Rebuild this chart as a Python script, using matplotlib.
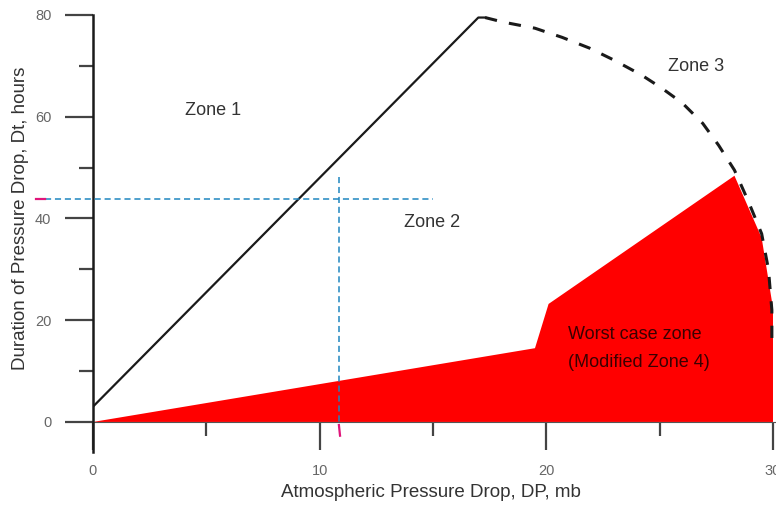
import matplotlib
matplotlib.use('Agg')
import matplotlib.pyplot as plt

plt.rcParams['font.family'] = ['Liberation Sans', 'DejaVu Sans']

# zone 1 / zone 2 boundary (solid line)
diag_x = [0, 17, 17.3]
diag_y = [3, 79.5, 79.5]

# zone 3 boundary (dashed arc)
arc_x = [17.3, 18.1, 19.5, 20.7, 21.9, 23.0, 24.2, 25.1, 26.0, 26.9, 27.6, 28.3,
         28.9, 29.5, 29.8, 29.95, 29.95]
arc_y = [79.5, 78.6, 77.4, 75.6, 73.5, 71.1, 68.2, 65.6, 62.7, 58.7, 54.4, 49.5,
         43.5, 37.0, 30.0, 22.0, 14.7]

# worst case zone (modified zone 4)
worst_x = [0, 19.5, 20.1, 28.3, 29.5, 30, 30, 0]
worst_y = [0, 14.5, 23.2, 48.4, 36.2, 22.4, 0, 0]

# reading lines
read_dp = 10.85
read_dt = 43.8

fig = plt.figure(figsize=(7.76, 5.05), dpi=100)
ax = fig.add_axes([0.1198, 0.104, 0.8807, 0.8663])

ax.fill(worst_x, worst_y, color='#ff0000', lw=0, zorder=1)
ax.plot(diag_x, diag_y, color='#1a1a1a', lw=1.6, zorder=3)
ax.plot(arc_x, arc_y, color='#1a1a1a', lw=2.2, ls=(0, (4, 4)), zorder=3)

ax.plot([-2.1, 15.0], [read_dt, read_dt], color='#1f86c0', lw=1.1,
        ls=(0, (4, 2.5)), clip_on=False, zorder=4)
ax.plot([-2.5, -2.1], [read_dt, read_dt], color='#e0157a', lw=1.6,
        clip_on=False, zorder=4)
ax.plot([read_dp, read_dp], [48.2, -0.6], color='#1f86c0', lw=1.1,
        ls=(0, (4, 2.5)), clip_on=False, zorder=4)
ax.plot([read_dp, read_dp + 0.05], [-0.6, -2.7], color='#e0157a', lw=1.6,
        clip_on=False, zorder=4)

txt = dict(fontsize=13, color='#333333', va='center')
ax.text(5.3, 61.3, 'Zone 1', ha='center', **txt)
ax.text(14.96, 39.3, 'Zone 2', ha='center', **txt)
ax.text(26.6, 69.8, 'Zone 3', ha='center', **txt)
ax.text(20.96, 17.1, 'Worst case zone', ha='left', fontsize=13,
        color='#3a0000', va='center')
ax.text(20.96, 11.6, '(Modified Zone 4)', ha='left', fontsize=13,
        color='#3a0000', va='center')

ax.set_xlim(0, 30.15)
ax.set_ylim(-6, 80)

for s in ['top', 'right']:
    ax.spines[s].set_visible(False)
ax.spines['left'].set_color('#1a1a1a')
ax.spines['left'].set_linewidth(1.8)
ax.spines['bottom'].set_position(('data', 0))
ax.spines['bottom'].set_color('#555555')
ax.spines['bottom'].set_linewidth(0.8)
ax.spines['bottom'].set_zorder(2)

ax.set_xticks([0, 10, 20, 30])
ax.set_xticks([5, 15, 25], minor=True)
ax.set_yticks([0, 20, 40, 60, 80])
ax.set_yticks([10, 30, 50, 70], minor=True)
ax.tick_params(which='major', length=20, width=1.6, color='#444444',
               labelsize=10.5, labelcolor='#666666', pad=10)
ax.tick_params(which='minor', length=10, width=1.6, color='#444444')

ax.set_xlabel('Atmospheric Pressure Drop, DP, mb', fontsize=13.5, color='#333333')
ax.set_ylabel('Duration of Pressure Drop, Dt, hours', fontsize=13.5, color='#333333')
ax.xaxis.set_label_coords(0.495, -0.072)
ax.yaxis.set_label_coords(-0.093, 0.535)

fig.savefig('out.png', dpi=100)
